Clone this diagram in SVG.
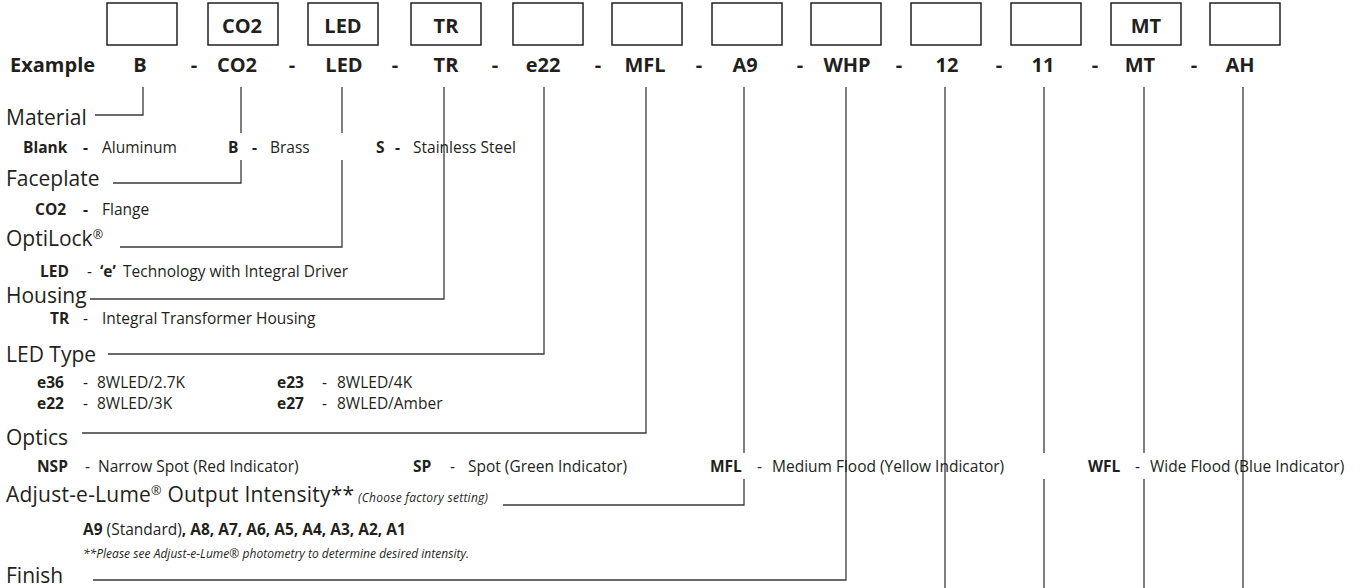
<svg xmlns="http://www.w3.org/2000/svg" width="1362" height="588" viewBox="0 0 1362 588">
<style>
text{font-family:"Open Sans","Noto Sans",sans-serif;fill:#231f20}
.ex{font-size:20px;font-weight:700}
.bx{font-size:20px;font-weight:700;text-anchor:middle}
.c{text-anchor:middle}
.hd{font-size:21px}
.d{font-size:15.5px}
.db{font-size:15.5px;font-weight:700}
.it{font-size:12px;font-style:italic}
.box{fill:#fff;stroke:#231f20;stroke-width:1.5}
.ln{fill:none;stroke:#3a3a3a;stroke-width:1.3}
.sup{font-size:60%}
</style>
<rect width="1362" height="588" fill="#fff"/>
<g id="boxes">
<g id="box-material"><rect class="box" x="107" y="3" width="70" height="42"/></g>
<g id="box-faceplate"><rect class="box" x="208" y="3" width="70" height="42"/><text class="bx" x="242" y="33">CO2</text></g>
<g id="box-optilock"><rect class="box" x="308" y="3" width="70" height="42"/><text class="bx" x="343" y="33">LED</text></g>
<g id="box-housing"><rect class="box" x="411" y="3" width="70" height="42"/><text class="bx" x="446" y="33">TR</text></g>
<g id="box-ledtype"><rect class="box" x="513" y="3" width="70" height="42"/></g>
<g id="box-optics"><rect class="box" x="612" y="3" width="70" height="42"/></g>
<g id="box-adjust"><rect class="box" x="712" y="3" width="70" height="42"/></g>
<g id="box-finish"><rect class="box" x="811" y="3" width="70" height="42"/></g>
<g id="box-9"><rect class="box" x="911" y="3" width="70" height="42"/></g>
<g id="box-10"><rect class="box" x="1011" y="3" width="70" height="42"/></g>
<g id="box-11"><rect class="box" x="1111" y="3" width="70" height="42"/><text class="bx" x="1146" y="33">MT</text></g>
<g id="box-12"><rect class="box" x="1210" y="3" width="70" height="42"/></g>
</g>
<g id="example-row">
<text class="ex" x="10" y="72">Example</text>
<text class="ex c" x="140" y="72">B</text>
<text class="ex c" x="194" y="72">-</text>
<text class="ex c" x="237" y="72">CO2</text>
<text class="ex c" x="292" y="72">-</text>
<text class="ex c" x="344" y="72">LED</text>
<text class="ex c" x="395" y="72">-</text>
<text class="ex c" x="446" y="72">TR</text>
<text class="ex c" x="495" y="72">-</text>
<text class="ex c" x="543" y="72">e22</text>
<text class="ex c" x="598" y="72">-</text>
<text class="ex c" x="645" y="72">MFL</text>
<text class="ex c" x="699" y="72">-</text>
<text class="ex c" x="745" y="72">A9</text>
<text class="ex c" x="800" y="72">-</text>
<text class="ex c" x="847" y="72">WHP</text>
<text class="ex c" x="899" y="72">-</text>
<text class="ex c" x="947" y="72">12</text>
<text class="ex c" x="999" y="72">-</text>
<text class="ex c" x="1043" y="72">11</text>
<text class="ex c" x="1095" y="72">-</text>
<text class="ex c" x="1140" y="72">MT</text>
<text class="ex c" x="1194" y="72">-</text>
<text class="ex c" x="1240" y="72">AH</text>
</g>
<g id="connectors">
<path class="ln" d="M143 87V115H95"/>
<path class="ln" d="M241 87V133M241 160V183H113"/>
<path class="ln" d="M342 87V133M342 160V247H120"/>
<path class="ln" d="M444 87V299H90"/>
<path class="ln" d="M544 87V354H108"/>
<path class="ln" d="M646 87V433H82"/>
<path class="ln" d="M744 87V453M744 479V505H503"/>
<path class="ln" d="M846 87V580H93"/>
<path class="ln" d="M945 87V588"/>
<path class="ln" d="M1044 87V453M1044 479V588"/>
<path class="ln" d="M1144 87V453M1144 479V588"/>
<path class="ln" d="M1243 87V588"/>
</g>
<g id="material">
<text class="hd" x="6" y="125">Material</text>
<text class="db" x="23" y="153">Blank</text><text class="db" x="83" y="153">-</text><text class="d" x="102" y="153">Aluminum</text>
<text class="db" x="228" y="153">B</text><text class="db" x="252" y="153">-</text><text class="d" x="270" y="153">Brass</text>
<text class="db" x="376" y="153">S</text><text class="db" x="395" y="153">-</text><text class="d" x="413" y="153">Stainless Steel</text>
</g>
<g id="faceplate">
<text class="hd" x="6" y="186">Faceplate</text>
<text class="db" x="35" y="215">CO2</text><text class="db" x="83" y="215">-</text><text class="d" x="102" y="215">Flange</text>
</g>
<g id="optilock">
<text class="hd" x="6" y="246">OptiLock<tspan class="sup" dy="-7">®</tspan></text>
<text class="db" x="40" y="277">LED</text><text class="d" x="87" y="277">-</text><text class="db" x="100" y="277">‘e’</text><text class="d" x="123" y="277">Technology with Integral Driver</text>
</g>
<g id="housing">
<text class="hd" x="6" y="303">Housing</text>
<text class="db" x="50" y="324">TR</text><text class="d" x="83" y="324">-</text><text class="d" x="102" y="324">Integral Transformer Housing</text>
</g>
<g id="ledtype">
<text class="hd" x="6" y="362">LED Type</text>
<text class="db" x="37" y="388">e36</text><text class="d" x="83" y="388">-</text><text class="d" x="97" y="388">8WLED/2.7K</text>
<text class="db" x="277" y="388">e23</text><text class="d" x="322" y="388">-</text><text class="d" x="337" y="388">8WLED/4K</text>
<text class="db" x="37" y="409">e22</text><text class="d" x="83" y="409">-</text><text class="d" x="97" y="409">8WLED/3K</text>
<text class="db" x="277" y="409">e27</text><text class="d" x="322" y="409">-</text><text class="d" x="337" y="409">8WLED/Amber</text>
</g>
<g id="optics">
<text class="hd" x="6" y="445">Optics</text>
<text class="db" x="37" y="472">NSP</text><text class="d" x="85" y="472">-</text><text class="d" x="98" y="472">Narrow Spot (Red Indicator)</text>
<text class="db" x="413" y="472">SP</text><text class="d" x="450" y="472">-</text><text class="d" x="468" y="472">Spot (Green Indicator)</text>
<text class="db" x="710" y="472">MFL</text><text class="d" x="757" y="472">-</text><text class="d" x="772" y="472">Medium Flood (Yellow Indicator)</text>
<text class="db" x="1088" y="472">WFL</text><text class="d" x="1135" y="472">-</text><text class="d" x="1150" y="472">Wide Flood (Blue Indicator)</text>
</g>
<g id="adjust">
<text class="hd" x="6" y="502" textLength="348">Adjust-e-Lume<tspan class="sup" dy="-7">®</tspan><tspan dy="7"> Output Intensity**</tspan></text>
<text class="it" x="358" y="502" textLength="130">(Choose factory setting)</text>
<text class="db" x="83" y="535">A9<tspan font-weight="400"> (Standard)</tspan>, A8, A7, A6, A5, A4, A3, A2, A1</text>
<text class="it" x="83" y="558" textLength="386">**Please see Adjust-e-Lume® photometry to determine desired intensity.</text>
</g>
<g id="finish">
<text class="hd" x="6" y="583">Finish</text>
</g>
</svg>
